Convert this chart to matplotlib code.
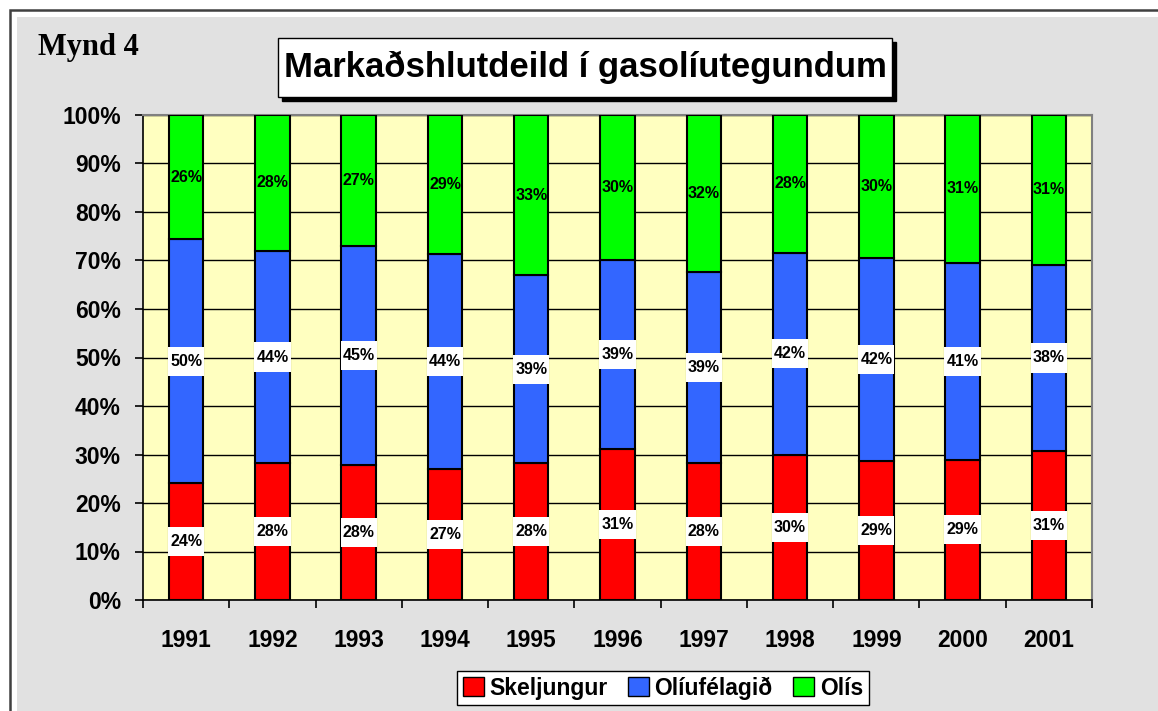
import matplotlib.pyplot as plt
import numpy as np
from matplotlib.patches import Rectangle

plt.rcParams['font.family'] = ['Liberation Sans', 'DejaVu Sans']

# Data (shares in %)
years = ['1991', '1992', '1993', '1994', '1995', '1996', '1997', '1998', '1999', '2000', '2001']
skeljungur = [24.1, 28.2, 27.8, 27.0, 28.2, 31.1, 28.2, 29.9, 28.7, 28.9, 30.7]
oliufelagid = [50.3, 43.8, 45.2, 44.3, 38.8, 39.0, 39.4, 41.7, 41.8, 40.6, 38.4]
olis = [25.6, 28.0, 27.0, 28.7, 33.0, 29.9, 32.4, 28.4, 29.5, 30.5, 30.9]
series_names = ['Skeljungur', 'Olíufélagið', 'Olís']
colors = ['#ff0000', '#3366ff', '#00ff00']

W, H = 1158, 711
fig = plt.figure(figsize=(W / 100, H / 100), dpi=100)
fig.patch.set_facecolor('white')

# outer frame: dark line, thin white strip, gray inside
fig.patches.append(Rectangle((10 / W, -0.05), 1.1, 1 - 10 / H + 0.05, transform=fig.transFigure,
                             facecolor='white', edgecolor='#404040', linewidth=1.8, zorder=-6))
fig.patches.append(Rectangle((17 / W, -0.05), 1.1, 1 - 17 / H + 0.05, transform=fig.transFigure,
                             facecolor='#e1e1e1', edgecolor='none', zorder=-5))

ax = fig.add_axes([143 / W, 1 - 600 / H, (1092 - 143) / W, (600 - 115) / H])
ax.set_facecolor('#ffffc0')
ax.set_zorder(1)

x = np.arange(len(years))
data = [skeljungur, oliufelagid, olis]
bottom = np.zeros(len(years))
for i, vals in enumerate(data):
    vals = np.array(vals)
    ax.bar(x, vals, 0.4, bottom=bottom, color=colors[i], edgecolor='black', linewidth=1.5, zorder=3)
    mids = bottom + vals / 2
    if i < 2:
        # white label boxes
        ax.bar(x, 6, 0.42, bottom=mids - 3, color='white', zorder=4)
    for j in range(len(years)):
        ax.text(x[j], mids[j], '%d%%' % int(vals[j] + 0.5), ha='center', va='center',
                fontsize=11.5, fontweight='bold', zorder=5)
    bottom = bottom + vals

ax.set_xlim(-0.5, len(years) - 0.5)
ax.set_ylim(0, 100)
ax.set_yticks(np.arange(0, 101, 10))
ax.set_yticklabels(['%d%%' % v for v in range(0, 101, 10)], fontsize=16.5, fontweight='bold')
ax.yaxis.grid(True, color='black', linewidth=1, zorder=1)
ax.set_axisbelow(True)

ax.set_xticks(x)
ax.set_xticklabels(years, fontsize=16.5, fontweight='bold')
ax.tick_params(axis='x', length=0, pad=21)
ax.set_xticks(np.arange(-0.5, len(years), 1), minor=True)
ax.tick_params(axis='x', which='minor', length=6, width=1.2, direction='out')
ax.tick_params(axis='y', length=6, width=1.2, direction='out', pad=10)

for s in ['left', 'bottom']:
    ax.spines[s].set_color('black')
    ax.spines[s].set_linewidth(1.2)
for s in ['top', 'right']:
    ax.spines[s].set_color('#808080')
    ax.spines[s].set_linewidth(1.5)

# "Mynd 4"
fig.text(38 / W, 1 - 48 / H, 'Mynd 4', fontsize=22, fontweight='bold', family='Liberation Serif',
         ha='left', va='center')

# title box with shadow
tx0, ty0, tx1, ty1 = 278, 38, 892, 97
fig.patches.append(Rectangle(((tx0 + 4) / W, 1 - (ty1 + 4) / H), (tx1 - tx0) / W, (ty1 - ty0) / H,
                             transform=fig.transFigure, facecolor='black', edgecolor='black', zorder=1))
fig.patches.append(Rectangle((tx0 / W, 1 - ty1 / H), (tx1 - tx0) / W, (ty1 - ty0) / H,
                             transform=fig.transFigure, facecolor='white', edgecolor='black',
                             linewidth=1, zorder=2))
fig.text((tx0 + tx1) / 2 / W, 1 - (ty0 + ty1) / 2 / H, 'Markaðshlutdeild í gasolíutegundum',
         fontsize=25, fontweight='bold', ha='center', va='center', zorder=3)

# legend
handles = [Rectangle((0, 0), 1, 1, facecolor=c, edgecolor='black', linewidth=1) for c in colors]
leg = fig.legend(handles, series_names, loc='center', bbox_to_anchor=((458 + 868) / 2 / W, 1 - 688 / H),
                 ncol=3, frameon=True, fancybox=False, edgecolor='black', framealpha=1,
                 prop={'weight': 'bold', 'size': 16.5}, handlelength=0.9, handleheight=0.9,
                 handletextpad=0.25, columnspacing=0.9, borderpad=0.25)
leg.get_frame().set_linewidth(1)

fig.savefig('out.png', dpi=100)
